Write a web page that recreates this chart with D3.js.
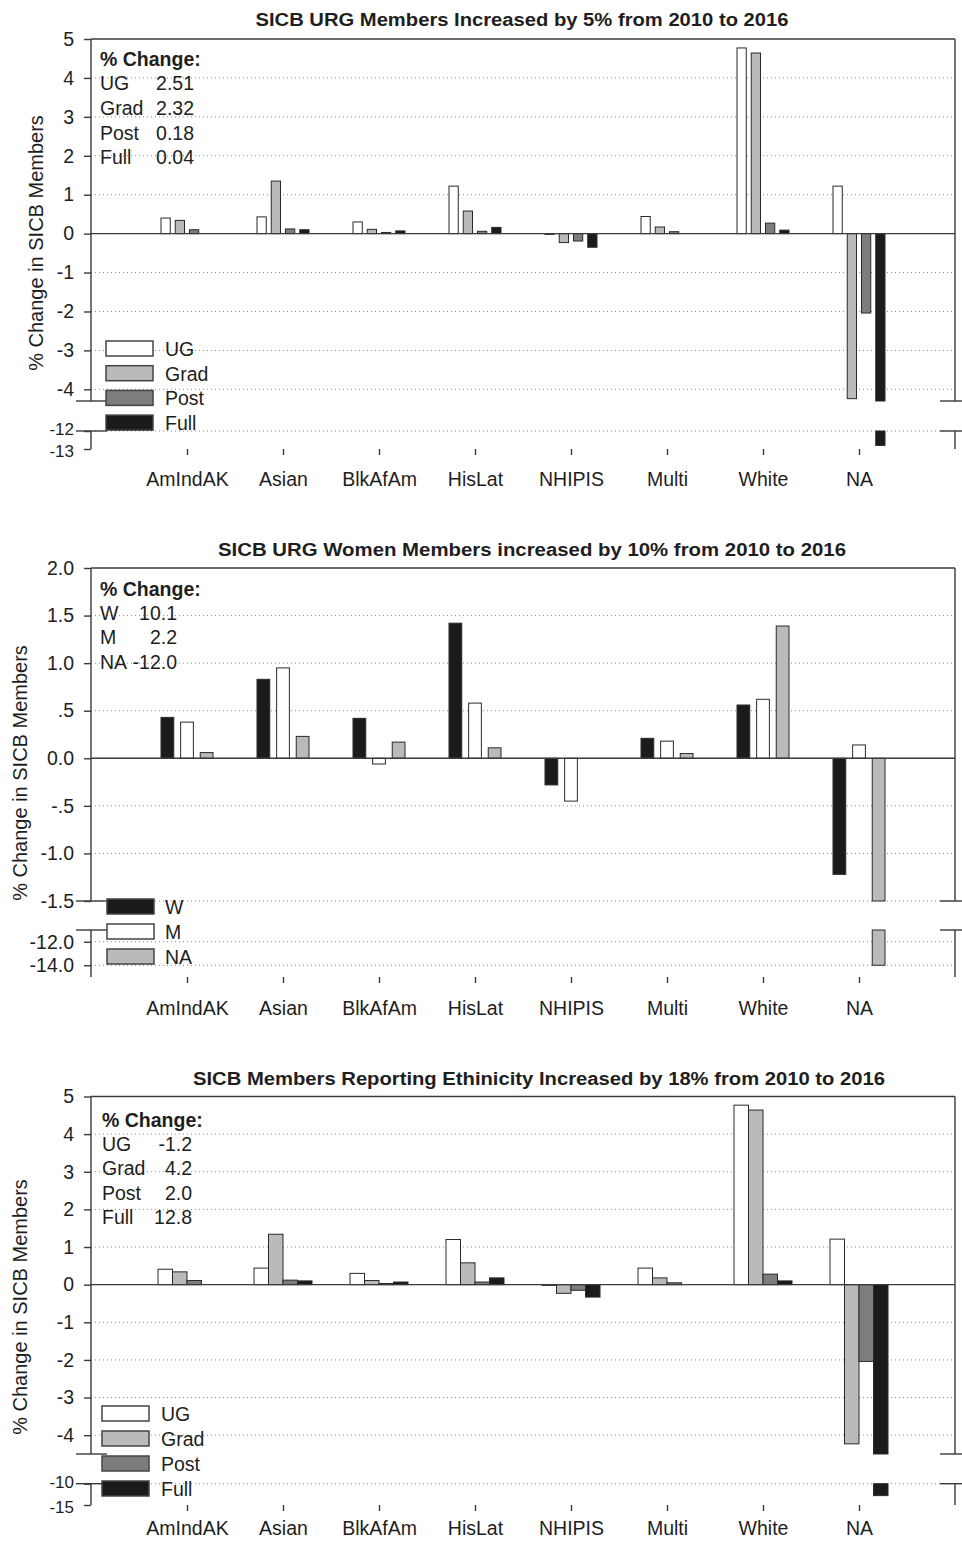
<!DOCTYPE html>
<html><head><meta charset="utf-8">
<script src="https://cdn.jsdelivr.net/npm/d3@7"></script>
<style>
body{margin:0;background:#fff}
svg{display:block}
text{font-family:"Liberation Sans",Arial,Helvetica,sans-serif;fill:#1e1e1e}
</style>
</head><body>
<svg id="c" width="962" height="1549"></svg>
<script>
// ---------------- DATA ----------------
const categories = ["AmIndAK","Asian","BlkAfAm","HisLat","NHIPIS","Multi","White","NA"];

// Panel 1: SICB URG Members
const p1Title = "SICB URG Members Increased by 5% from 2010 to 2016";
const p1Series = ["UG","Grad","Post","Full"];
const p1UG   = [0.40, 0.43, 0.30, 1.22, -0.02, 0.44, 4.77, 1.22];
const p1Grad = [0.34, 1.35, 0.11, 0.58, -0.23, 0.17, 4.64, -4.24];
const p1Post = [0.10, 0.12, 0.03, 0.06, -0.19, 0.05, 0.27, -2.04];
const p1Full = [0.00, 0.10, 0.07, 0.16, -0.35, 0.00, 0.09, -12.8];
const p1UpperTicks = [5,4,3,2,1,0,-1,-2,-3,-4];
const p1UpperLabels = ["5","4","3","2","1","0","-1","-2","-3","-4"];
const p1LowerTicks = [-12,-13];
const p1LowerLabels = ["-12","-13"];
const p1ChangeNames = ["UG","Grad","Post","Full"];
const p1ChangeValues = ["2.51","2.32","0.18","0.04"];

// Panel 2: SICB URG Women Members
const p2Title = "SICB URG Women Members increased by 10% from 2010 to 2016";
const p2Series = ["W","M","NA"];
const p2W  = [0.43, 0.83, 0.42, 1.42, -0.28, 0.21, 0.56, -1.22];
const p2M  = [0.38, 0.95, -0.06, 0.58, -0.45, 0.18, 0.62, 0.14];
const p2NA = [0.06, 0.23, 0.17, 0.11, 0.00, 0.05, 1.39, -14.0];
const p2UpperTicks = [2.0,1.5,1.0,0.5,0,-0.5,-1.0,-1.5];
const p2UpperLabels = ["2.0","1.5","1.0",".5","0.0","-.5","-1.0","-1.5"];
const p2LowerTicks = [-12,-14];
const p2LowerLabels = ["-12.0","-14.0"];
const p2ChangeNames = ["W","M","NA"];
const p2ChangeValues = ["10.1","2.2","-12.0"];

// Panel 3: SICB Members Reporting Ethnicity
const p3Title = "SICB Members Reporting Ethinicity Increased by 18% from 2010 to 2016";
const p3Series = ["UG","Grad","Post","Full"];
const p3UG   = [0.41, 0.44, 0.30, 1.20, -0.02, 0.44, 4.77, 1.21];
const p3Grad = [0.34, 1.34, 0.11, 0.58, -0.23, 0.18, 4.64, -4.23];
const p3Post = [0.11, 0.12, 0.03, 0.07, -0.15, 0.05, 0.28, -2.04];
const p3Full = [0.00, 0.10, 0.07, 0.18, -0.33, 0.00, 0.10, -12.8];
const p3UpperTicks = [5,4,3,2,1,0,-1,-2,-3,-4];
const p3UpperLabels = ["5","4","3","2","1","0","-1","-2","-3","-4"];
const p3LowerTicks = [-10,-15];
const p3LowerLabels = ["-10","-15"];
const p3ChangeNames = ["UG","Grad","Post","Full"];
const p3ChangeValues = ["-1.2","4.2","2.0","12.8"];

const yTitle = "% Change in SICB Members";

// ---------------- STYLE ----------------
const fills = {UG:"#ffffff", Grad:"#bababa", Post:"#7d7d7d", Full:"#1b1b1b",
               W:"#1b1b1b", M:"#ffffff", NA:"#bababa"};
const lineCol = "#3a3a3a";
const gridCol = "#8a8a8a";

const svg = d3.select("#c");

function drawPanel(cfg){
  const g = svg.append("g");
  const yU = d3.scaleLinear().domain(cfg.upperDomain).range([cfg.yBreak, cfg.top]);
  const yL = d3.scaleLinear().domain(cfg.lowerDomain).range([cfg.bottom, cfg.lowTop]);
  const x = d3.scalePoint().domain(categories).range([cfg.left, cfg.right]).padding(1);
  const xi = d3.scaleBand().domain(cfg.series).range([-cfg.half, cfg.half]).paddingInner(cfg.pad);

  // gridlines
  const grid = g.append("g").attr("stroke", gridCol).attr("stroke-width", 1).attr("stroke-dasharray", "1,3");
  cfg.upperTicks.filter(t => t !== 0 && t !== cfg.upperDomain[1]).forEach(t => {
    grid.append("line").attr("x1", cfg.left).attr("x2", cfg.right).attr("y1", yU(t)).attr("y2", yU(t));
  });
  cfg.lowerTicks.filter(t => t !== cfg.lowerDomain[0]).forEach(t => {
    grid.append("line").attr("x1", cfg.left).attr("x2", cfg.right).attr("y1", yL(t)).attr("y2", yL(t));
  });

  // bars
  const bars = g.append("g").attr("stroke", "#2a2a2a").attr("stroke-width", 1);
  cfg.series.forEach((s, si) => {
    const vals = cfg.values[si];
    categories.forEach((c, ci) => {
      const v = vals[ci];
      if (v === 0) return;
      const bx = x(c) + xi(s);
      const bw = xi.bandwidth();
      const minU = cfg.upperDomain[0];
      if (v >= 0) {
        bars.append("rect").attr("x", bx).attr("width", bw).attr("y", yU(v)).attr("height", yU(0) - yU(v)).attr("fill", fills[s]);
      } else if (v >= minU) {
        bars.append("rect").attr("x", bx).attr("width", bw).attr("y", yU(0)).attr("height", yU(v) - yU(0)).attr("fill", fills[s]);
      } else {
        bars.append("rect").attr("x", bx).attr("width", bw).attr("y", yU(0)).attr("height", yU(minU) - yU(0)).attr("fill", fills[s]);
        bars.append("rect").attr("x", bx).attr("width", bw).attr("y", yL(cfg.lowerDomain[1])).attr("height", yL(v) - yL(cfg.lowerDomain[1])).attr("fill", fills[s]);
      }
    });
  });

  // zero line & frame
  const fr = g.append("g").attr("stroke", lineCol).attr("stroke-width", 1.4).attr("fill", "none");
  fr.append("line").attr("x1", cfg.left).attr("x2", cfg.right).attr("y1", yU(0)).attr("y2", yU(0));
  fr.append("line").attr("x1", cfg.left).attr("x2", cfg.right).attr("y1", cfg.top).attr("y2", cfg.top);
  [cfg.left, cfg.right].forEach(xx => {
    fr.append("line").attr("x1", xx).attr("x2", xx).attr("y1", cfg.top).attr("y2", cfg.yBreak);
    fr.append("line").attr("x1", xx).attr("x2", xx).attr("y1", cfg.lowTop).attr("y2", cfg.bottom);
    [cfg.yBreak, cfg.lowTop].forEach(yy => {
      fr.append("line").attr("x1", xx - 15).attr("x2", xx + 16).attr("y1", yy).attr("y2", yy);
    });
  });

  // y axes
  const axU = g.append("g").attr("transform", `translate(${cfg.left},0)`)
    .call(d3.axisLeft(yU).tickValues(cfg.upperTicks).tickFormat((d, i) => cfg.upperLabels[i]).tickSize(7).tickPadding(10));
  const axL = g.append("g").attr("transform", `translate(${cfg.left},0)`)
    .call(d3.axisLeft(yL).tickValues(cfg.lowerTicks).tickFormat((d, i) => cfg.lowerLabels[i]).tickSize(7).tickPadding(10));
  // x axis
  const axX = g.append("g").attr("transform", `translate(0,${cfg.bottom})`)
    .call(d3.axisBottom(x).tickSize(6).tickPadding(cfg.xPad));
  [axU, axL, axX].forEach(a => {
    a.select(".domain").remove();
    a.attr("font-size", null).attr("font-family", null);
    a.selectAll("line").attr("stroke", lineCol).attr("stroke-width", 1.4);
    a.selectAll("text").attr("font-size", "19.5px").attr("fill", "#1e1e1e");
  });
  if (cfg.lowerFont) {
    axL.selectAll("text").attr("font-size", cfg.lowerFont)
      .attr("dy", (d, i) => i === 0 ? "0.22em" : "0.42em");
  }

  // title
  g.append("text").attr("x", cfg.titleX).attr("y", cfg.titleY).attr("dy", "0.35em")
    .attr("text-anchor", "middle").attr("font-weight", "bold").attr("font-size", "17.5px")
    .attr("textLength", cfg.titleW).attr("lengthAdjust", "spacingAndGlyphs").text(cfg.title);

  // y title
  g.append("text").attr("transform", `translate(${cfg.yTitleX},${cfg.yTitleY}) rotate(-90)`)
    .attr("text-anchor", "middle").attr("dy", "0.35em").attr("font-size", "20px").text(yTitle);

  // annotation
  const an = g.append("g").attr("font-size", "19.5px");
  an.append("text").attr("x", cfg.annX).attr("y", cfg.annY).attr("dy", "0.35em")
    .attr("font-weight", "bold").text("% Change:");
  cfg.changeNames.forEach((n, i) => {
    const yy = cfg.annY + (i + 1) * cfg.annStep;
    an.append("text").attr("x", cfg.annX).attr("y", yy).attr("dy", "0.35em").text(n);
    an.append("text").attr("x", cfg.annValX).attr("y", yy).attr("dy", "0.35em").attr("text-anchor", "end").text(cfg.changeValues[i]);
  });

  // legend
  const lg = g.append("g");
  cfg.series.forEach((s, i) => {
    const yy = cfg.legY + i * cfg.legStep;
    lg.append("rect").attr("x", cfg.legX).attr("y", yy).attr("width", 47).attr("height", 15)
      .attr("fill", fills[s]).attr("stroke", "#444").attr("stroke-width", 1.5);
    lg.append("text").attr("x", cfg.legTextX).attr("y", yy + 8).attr("dy", "0.35em").attr("font-size", "19.5px").text(s);
  });
}

drawPanel({
  title: p1Title, series: p1Series, values: [p1UG, p1Grad, p1Post, p1Full],
  upperTicks: p1UpperTicks, upperLabels: p1UpperLabels, lowerTicks: p1LowerTicks, lowerLabels: p1LowerLabels,
  changeNames: p1ChangeNames, changeValues: p1ChangeValues,
  left: 91, right: 955, top: 39, yBreak: 401, lowTop: 431, bottom: 449,
  upperDomain: [-4.3, 5], lowerDomain: [-13, -12],
  half: 26, pad: 0.35, xPad: 17, lowerFont: "17px",
  titleX: 522, titleY: 20, titleW: 533,
  yTitleX: 36, yTitleY: 243,
  annX: 100, annY: 59, annStep: 24.6, annValX: 194,
  legX: 106, legY: 341, legStep: 24.7, legTextX: 165
});

drawPanel({
  title: p2Title, series: p2Series, values: [p2W, p2M, p2NA],
  upperTicks: p2UpperTicks, upperLabels: p2UpperLabels, lowerTicks: p2LowerTicks, lowerLabels: p2LowerLabels,
  changeNames: p2ChangeNames, changeValues: p2ChangeValues,
  left: 91, right: 955, top: 568, yBreak: 901, lowTop: 930, bottom: 977,
  upperDomain: [-1.5, 2], lowerDomain: [-15, -11],
  half: 26, pad: 0.35, xPad: 18.5,
  titleX: 532, titleY: 550, titleW: 628,
  yTitleX: 20, yTitleY: 773,
  annX: 100, annY: 589, annStep: 24.3, annValX: 177,
  legX: 107, legY: 899, legStep: 25, legTextX: 165
});

drawPanel({
  title: p3Title, series: p3Series, values: [p3UG, p3Grad, p3Post, p3Full],
  upperTicks: p3UpperTicks, upperLabels: p3UpperLabels, lowerTicks: p3LowerTicks, lowerLabels: p3LowerLabels,
  changeNames: p3ChangeNames, changeValues: p3ChangeValues,
  left: 91, right: 955, top: 1096.5, yBreak: 1454, lowTop: 1483.7, bottom: 1505,
  upperDomain: [-4.5, 5], lowerDomain: [-15, -10],
  half: 29, pad: 0, xPad: 10.5, lowerFont: "17px",
  titleX: 539, titleY: 1079, titleW: 692,
  yTitleX: 20, yTitleY: 1307,
  annX: 102, annY: 1120, annStep: 24.3, annValX: 192,
  legX: 102, legY: 1406, legStep: 25, legTextX: 161
});
</script>
</body></html>
